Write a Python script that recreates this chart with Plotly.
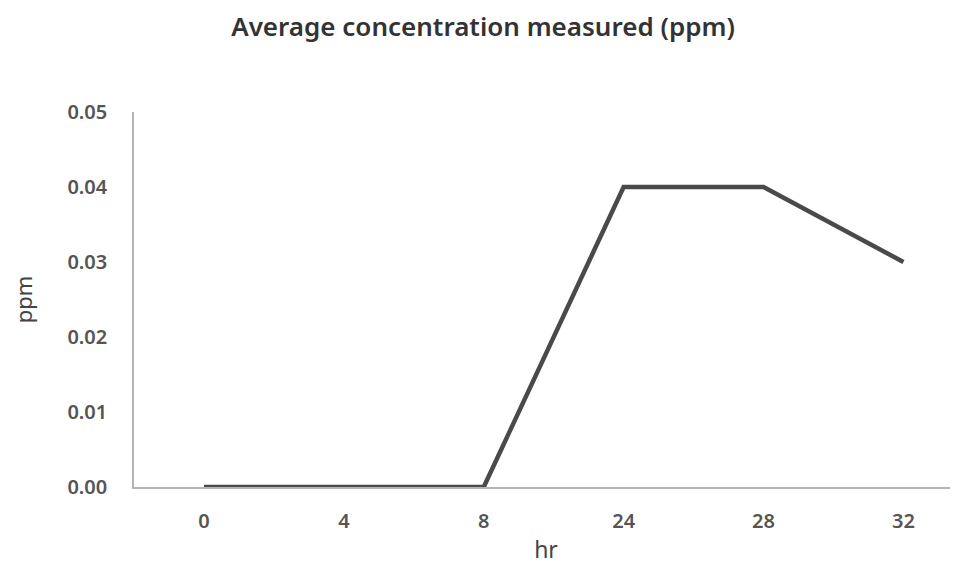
import plotly.graph_objects as go

hours = ["0", "4", "8", "24", "28", "32"]
ppm = [0.0, 0.0, 0.0, 0.04, 0.04, 0.03]
y_ticks = [0.0, 0.01, 0.02, 0.03, 0.04, 0.05]
y_tick_labels = ["0.00", "0.01", "0.02", "0.03", "0.04", "0.05"]

fig = go.Figure()
fig.add_trace(go.Scatter(
    x=hours, y=ppm, mode="lines",
    line=dict(color="#4a4a4a", width=4.5),
    showlegend=False,
))

font_family = "Noto Sans, Open Sans, sans-serif"

fig.update_layout(
    width=950, height=566,
    margin=dict(l=126, r=0, t=104, b=87),
    paper_bgcolor="white", plot_bgcolor="white",
    title=dict(text="Average concentration measured (ppm)",
               x=0.5, xref="container", xanchor="center",
               y=0.967, yref="container", yanchor="middle",
               font=dict(family=font_family, size=26, weight=600, color="#333333")),
    xaxis=dict(
        type="category", range=[-0.5, 5.39],
        showgrid=False, zeroline=False,
        showline=True, linecolor="#b5b5b5", linewidth=1.5,
        ticks="outside", ticklen=15, tickcolor="rgba(0,0,0,0)",
        tickfont=dict(family=font_family, size=20, weight=600, color="#555555"),
        title=dict(text="hr", standoff=9,
                   font=dict(family=font_family, size=23, color="#444444")),
    ),
    yaxis=dict(
        range=[0, 0.05], tickvals=y_ticks, ticktext=y_tick_labels,
        showgrid=False, zeroline=False,
        showline=True, linecolor="#b5b5b5", linewidth=1.5,
        ticks="outside", ticklen=21, tickcolor="rgba(0,0,0,0)",
        tickfont=dict(family=font_family, size=20, weight=600, color="#555555"),
        title=dict(text="ppm", standoff=34,
                   font=dict(family=font_family, size=22, color="#444444")),
    ),
)

fig.write_html("out.html")
